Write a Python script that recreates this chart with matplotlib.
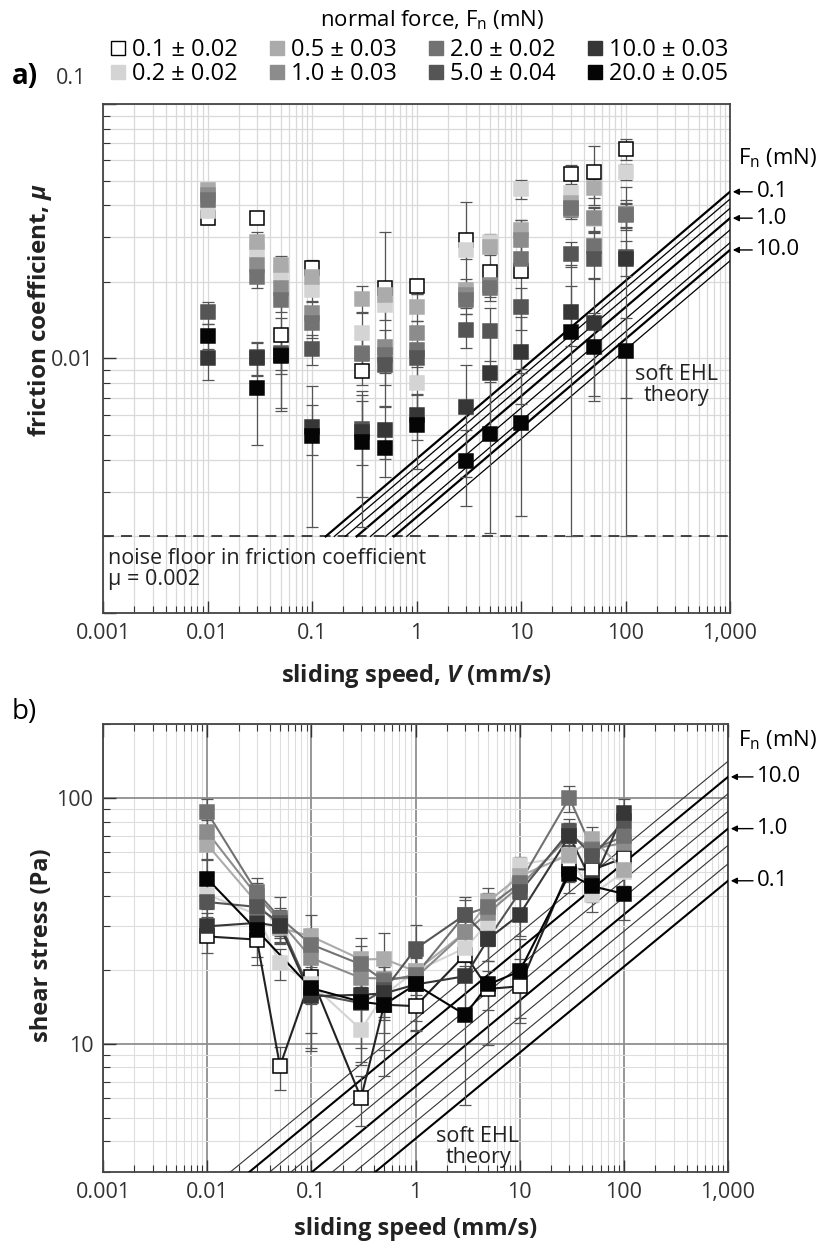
import numpy as np
import matplotlib
matplotlib.use('Agg')
import matplotlib.pyplot as plt
from matplotlib.lines import Line2D
from matplotlib.ticker import LogLocator, NullFormatter, FixedLocator

plt.rcParams['font.family'] = ['Open Sans', 'DejaVu Sans']
plt.rcParams['mathtext.fontset'] = 'custom'
plt.rcParams['mathtext.rm'] = 'Open Sans'
plt.rcParams['mathtext.it'] = 'Open Sans:italic'
plt.rcParams['mathtext.bf'] = 'Open Sans:bold'
plt.rcParams['mathtext.bfit'] = 'Open Sans:bold:italic'

# ---- data ----
speeds = [0.01, 0.03, 0.05, 0.1, 0.3, 0.5, 1, 3, 5, 10, 30, 50, 100]
forces = [0.1, 0.2, 0.5, 1.0, 2.0, 5.0, 10.0, 20.0]
force_labels = ['0.1 ± 0.02', '0.2 ± 0.02', '0.5 ± 0.03', '1.0 ± 0.03',
                '2.0 ± 0.02', '5.0 ± 0.04', '10.0 ± 0.03', '20.0 ± 0.05']
face_colors = ['white', '#d4d4d4', '#ababab', '#8c8c8c', '#727272', '#555555', '#363636', '#050505']

# a) friction coefficient
mu_01 = [0.0357, 0.0357, 0.0124, 0.0226, 0.0089, 0.0190, 0.0193, 0.0292, 0.0219, 0.0221, 0.0530, 0.0542, 0.0665]
mu_02 = [0.0380, 0.0267, 0.0216, 0.0186, 0.0126, 0.0162, 0.0080, 0.0267, 0.0288, 0.0462, 0.0446, 0.0352, 0.0542]
mu_05 = [0.0459, 0.0288, 0.0233, 0.0209, 0.0172, 0.0178, 0.0160, 0.0186, 0.0275, 0.0320, 0.0407, 0.0466, 0.0369]
mu_1 = [0.0440, 0.0233, 0.0189, 0.0151, 0.0105, 0.0111, 0.0126, 0.0178, 0.0195, 0.0292, 0.0383, 0.0355, 0.0370]
mu_2 = [0.0420, 0.0209, 0.0170, 0.0138, 0.0104, 0.0103, 0.0108, 0.0170, 0.0189, 0.0246, 0.0390, 0.0277, 0.0365]
mu_5 = [0.0152, 0.0101, 0.0105, 0.0109, 0.0053, 0.0094, 0.0100, 0.0130, 0.0128, 0.0160, 0.0258, 0.0246, 0.0250]
mu_10 = [0.0100, 0.0100, 0.0103, 0.00536, 0.00516, 0.00524, 0.0060, 0.00643, 0.0088, 0.0106, 0.0152, 0.0138, 0.0246]
mu_20 = [0.01225, 0.00767, 0.0102, 0.00497, 0.00468, 0.00443, 0.00548, 0.00394, 0.00506, 0.0056, 0.0127, 0.0111, 0.0107]

mu_err_01 = [0.0018, 0.0010, 0.0060, 0.0018, 0.0010, 0.0125, 0.0013, 0.0120, 0.0040, 0.0130, 0.0045, 0.0140, 0.0065]
mu_err_02 = [0.0030, 0.0025, 0.0020, 0.0020, 0.0025, 0.0020, 0.0020, 0.0020, 0.0020, 0.0040, 0.0030, 0.0040, 0.0040]
mu_err_05 = [0.0030, 0.0025, 0.0020, 0.0020, 0.0020, 0.0020, 0.0020, 0.0020, 0.0020, 0.0030, 0.0030, 0.0040, 0.0050]
mu_err_1 = [0.0025, 0.0020, 0.0018, 0.0018, 0.0018, 0.0018, 0.0015, 0.0020, 0.0020, 0.0030, 0.0030, 0.0040, 0.0040]
mu_err_2 = [0.0025, 0.0020, 0.0018, 0.0018, 0.0015, 0.0015, 0.0015, 0.0020, 0.0020, 0.0030, 0.0030, 0.0040, 0.0040]
mu_err_5 = [0.0015, 0.0015, 0.0015, 0.0015, 0.0015, 0.0015, 0.0015, 0.0020, 0.0030, 0.0030, 0.0030, 0.0040, 0.0040]
mu_err_10 = [0.0018, 0.0015, 0.0041, 0.0012, 0.0023, 0.0012, 0.0012, 0.0030, 0.0040, 0.0040, 0.0040, 0.0070, 0.0226]
mu_err_20 = [0.0014, 0.0031, 0.0015, 0.0028, 0.0025, 0.0010, 0.0018, 0.0013, 0.0030, 0.0032, 0.0107, 0.0040, 0.0037]

# b) shear stress (Pa)
tau_01 = [27.3, 26.5, 8.1, 18.7, 6.0, 14.4, 14.2, 23.0, 16.7, 17.1, 51.4, 51.0, 57.0]
tau_02 = [40.4, 33.5, 21.2, 17.5, 11.4, 15.8, 19.7, 24.5, 31.0, 53.5, 58.0, 40.4, 50.0]
tau_05 = [64.6, 37.4, 29.6, 27.3, 22.0, 22.1, 19.7, 28.4, 37.9, 48.0, 58.8, 68.1, 51.0]
tau_1 = [72.7, 40.0, 31.5, 22.3, 18.5, 18.4, 18.5, 28.4, 34.1, 43.7, 69.8, 62.0, 65.6]
tau_2 = [87.4, 41.3, 32.5, 25.3, 21.0, 18.0, 19.0, 33.5, 36.0, 45.0, 100.0, 61.6, 69.8]
tau_5 = [37.7, 36.0, 31.0, 16.0, 14.6, 16.5, 24.3, 33.5, 26.7, 41.3, 73.1, 57.9, 80.3]
tau_10 = [30.0, 31.0, 30.0, 15.6, 15.8, 16.0, 17.4, 18.8, 26.7, 33.5, 70.0, 45.0, 86.9]
tau_20 = [46.9, 28.9, np.nan, 16.8, 14.8, 14.4, 17.4, 13.1, 17.4, 19.7, 49.0, 43.7, 40.7]

tau_err_01 = [4.0, 4.0, 1.6, 4.0, 1.4, 7.0, 3.0, 4.0, 3.0, 5.0, 6.0, 6.0, 7.0]
tau_err_02 = [5.0, 4.0, 3.0, 3.0, 3.0, 3.0, 3.0, 3.0, 4.0, 4.0, 6.0, 6.0, 6.0]
tau_err_05 = [8.0, 5.0, 4.0, 6.0, 5.0, 6.0, 4.0, 4.0, 5.0, 6.0, 7.0, 8.0, 7.0]
tau_err_1 = [9.0, 5.0, 4.0, 4.0, 4.0, 4.0, 4.0, 4.0, 5.0, 5.0, 8.0, 7.0, 8.0]
tau_err_2 = [12.0, 6.0, 7.0, 4.0, 4.0, 4.0, 4.0, 5.0, 5.0, 6.0, 12.0, 7.0, 9.0]
tau_err_5 = [5.0, 5.0, 4.0, 5.0, 5.0, 4.0, 6.0, 6.0, 5.0, 6.0, 9.0, 7.0, 10.0]
tau_err_10 = [4.0, 4.0, 4.0, 6.0, 5.0, 5.0, 5.0, 5.0, 5.0, 6.0, 9.0, 6.0, 12.0]
tau_err_20 = [9.0, 8.0, 5.0, 7.5, 6.6, 5.0, 6.0, 7.5, 7.5, 7.0, 8.0, 6.0, 9.0]

mu_series = [mu_01, mu_02, mu_05, mu_1, mu_2, mu_5, mu_10, mu_20]
mu_errs = [mu_err_01, mu_err_02, mu_err_05, mu_err_1, mu_err_2, mu_err_5, mu_err_10, mu_err_20]
tau_series = [tau_01, tau_02, tau_05, tau_1, tau_2, tau_5, tau_10, tau_20]
tau_errs = [tau_err_01, tau_err_02, tau_err_05, tau_err_1, tau_err_2, tau_err_5, tau_err_10, tau_err_20]

# soft EHL theory lines: value at V = 1000 mm/s, log-log slope
ehl_mu_end = [0.0452, 0.0423, 0.0389, 0.0356, 0.0320, 0.0285, 0.0267, 0.0242]
ehl_tau_end = [46.0, 53.9, 64.1, 75.0, 88.2, 104.0, 121.8, 141.0]
ehl_slope = 0.35
ehl_bold = [True, False, False, True, False, False, True, False]
noise_floor = 0.002

x_ticks = [0.001, 0.01, 0.1, 1, 10, 100, 1000]
x_ticklabels = ['0.001', '0.01', '0.1', '1', '10', '100', '1,000']

# ---- figure ----
W, H = 823, 1245
fig = plt.figure(figsize=(W / 100, H / 100), dpi=100)


def px_axes(l, t, r, b):
    return fig.add_axes([l / W, 1 - b / H, (r - l) / W, (b - t) / H])


ax_a = px_axes(103, 104, 730, 613)
ax_b = px_axes(103, 724, 728, 1172)

for ax in (ax_a, ax_b):
    ax.set_xscale('log')
    ax.set_yscale('log')
    ax.set_xlim(0.001, 1000)
    ax.xaxis.set_major_locator(FixedLocator(x_ticks))
    ax.set_xticklabels(x_ticklabels)
    ax.xaxis.set_minor_locator(LogLocator(base=10, subs=np.arange(2, 10)))
    ax.xaxis.set_minor_formatter(NullFormatter())
    ax.yaxis.set_minor_locator(LogLocator(base=10, subs=np.arange(2, 10)))
    ax.yaxis.set_minor_formatter(NullFormatter())
    ax.tick_params(which='both', direction='in', labelsize=15.5, colors='#333333', pad=7)
    ax.tick_params(which='major', length=9, width=1)
    ax.tick_params(which='minor', length=5, width=0.8)
    for s in ax.spines.values():
        s.set_color('#444444')
        s.set_linewidth(1.3)
    ax.set_axisbelow(True)

# ---- panel a ----
ax_a.set_ylim(0.001, 0.1)
ax_a.set_yticks([0.001, 0.01, 0.1])
ax_a.set_yticklabels(['', '0.01', ''])
ax_a.grid(True, which='both', color='#d9d9d9', lw=0.9)

ax_a.axhline(noise_floor, color='#333333', lw=1.3, ls=(0, (6, 4)), zorder=2)
for end, bold in zip(ehl_mu_end, ehl_bold):
    v0 = 1000 * (noise_floor / end) ** (1 / ehl_slope)
    vv = np.array([v0, 1000])
    ax_a.plot(vv, end * (vv / 1000) ** ehl_slope, color='black',
              lw=1.6 if bold else 0.9, zorder=3)

for mu, err, fc in zip(mu_series, mu_errs, face_colors):
    mu = np.array(mu)
    err = np.array(err)
    lower = np.minimum(err, mu - noise_floor)
    ax_a.errorbar(speeds, mu, yerr=[lower, err], fmt='none', ecolor='#555555',
                  elinewidth=0.9, capsize=4, capthick=0.9, zorder=4)
for mu, fc in zip(mu_series, face_colors):
    ec = 'black' if fc == 'white' else fc
    ax_a.plot(speeds, mu, 's', ms=10, mfc=fc, mec=ec, mew=1.1, ls='none', zorder=5)

ax_a.set_xlabel(r'sliding speed, $\mathbfit{V}$ (mm/s)', fontsize=17, fontweight='bold',
                labelpad=13, color='#222222')
fig.text(40 / W, 1 - 310 / H, r'friction coefficient, $\mathbfit{\mu}$', rotation=90,
         fontsize=17.5, fontweight='bold', ha='center', va='center', color='#222222')
fig.text(71 / W, 1 - 79 / H, '0.1', fontsize=15.5, ha='center', va='center', color='#333333')
fig.text(12 / W, 1 - 76 / H, 'a)', fontsize=20, fontweight='bold', ha='left', va='center')

ax_a.text(0.008, 0.128, 'noise floor in friction coefficient\nμ = 0.002', transform=ax_a.transAxes,
          fontsize=15.5, ha='left', va='top', linespacing=1.0, color='#222222')
ax_a.text(0.915, 0.448, 'soft EHL\ntheory', transform=ax_a.transAxes, fontsize=15.5,
          ha='center', va='center', linespacing=1.0, color='#222222')

fig.text(778 / W, 1 - 158 / H, r'F$_\mathrm{n}$ (mN)', fontsize=16, ha='center', va='center')
for idx in (0, 3, 6):
    ax_a.annotate(('%.1f' % forces[idx]), xy=(1.0, ehl_mu_end[idx]), xycoords=('axes fraction', 'data'),
                  xytext=(19, 0), textcoords='offset points', fontsize=16, va='center', ha='left',
                  arrowprops=dict(arrowstyle='-|>', color='black', lw=1.0, shrinkA=1, shrinkB=2,
                                  mutation_scale=9),
                  annotation_clip=False)

# legend
handles = []
for fc in face_colors:
    ec = 'black' if fc == 'white' else fc
    handles.append(Line2D([], [], marker='s', ls='none', ms=10.5, mfc=fc, mec=ec, mew=1.0))
fig.text(432 / W, 1 - 20 / H, r'normal force, F$_\mathrm{n}$ (mN)', fontsize=16,
         ha='center', va='center')
leg = fig.legend(handles, force_labels, loc='upper center', bbox_to_anchor=(0.51, 1 - 26 / H),
                 ncol=4, frameon=False, fontsize=17, handlelength=0.6, handletextpad=0.3,
                 columnspacing=1.35, labelspacing=0.0, borderpad=0)

# ---- panel b ----
ax_b.set_ylim(3, 200)
ax_b.set_yticks([10, 100])
ax_b.set_yticklabels(['10', '100'])
ax_b.tick_params(which='both', top=True)
ax_b.grid(True, which='minor', color='#dedede', lw=0.8)
ax_b.grid(True, which='major', color='#8f8f8f', lw=1.3)

for end, bold in zip(ehl_tau_end, ehl_bold):
    vv = np.array([0.001, 1000])
    ax_b.plot(vv, end * (vv / 1000) ** ehl_slope, color='black' if bold else '#333333',
              lw=1.5 if bold else 0.8, zorder=3)

for tau, err, fc in zip(tau_series, tau_errs, face_colors):
    ax_b.errorbar(speeds, tau, yerr=err, fmt='none', ecolor='#555555',
                  elinewidth=0.9, capsize=4, capthick=0.9, zorder=4)
for tau, fc in zip(tau_series, face_colors):
    tau = np.array(tau, dtype=float)
    ok = np.isfinite(tau)
    lc = '#222222' if fc == 'white' else fc
    ec = 'black' if fc == 'white' else fc
    ax_b.plot(np.array(speeds)[ok], tau[ok], '-', color=lc, lw=1.5, zorder=5)
    ax_b.plot(np.array(speeds)[ok], tau[ok], 's', ms=10, mfc=fc, mec=ec, mew=1.1, zorder=6)

ax_b.set_xlabel('sliding speed (mm/s)', fontsize=17, fontweight='bold', labelpad=10, color='#222222')
fig.text(42 / W, 1 - 945 / H, 'shear stress (Pa)', rotation=90, fontsize=17, fontweight='bold',
         ha='center', va='center', color='#222222')
fig.text(12 / W, 1 - 712 / H, 'b)', fontsize=20, ha='left', va='center')
ax_b.text(0.60, 0.056, 'soft EHL\ntheory', transform=ax_b.transAxes, fontsize=15.5,
          ha='center', va='center', linespacing=1.0, color='#222222')

fig.text(778 / W, 1 - 740 / H, r'F$_\mathrm{n}$ (mN)', fontsize=16, ha='center', va='center')
for idx in (6, 3, 0):
    ax_b.annotate(('%.1f' % forces[idx]), xy=(1.0, ehl_tau_end[idx]), xycoords=('axes fraction', 'data'),
                  xytext=(21, 0), textcoords='offset points', fontsize=16, va='center', ha='left',
                  arrowprops=dict(arrowstyle='-|>', color='black', lw=1.0, shrinkA=1, shrinkB=2,
                                  mutation_scale=9),
                  annotation_clip=False)

fig.savefig('out.png', dpi=100)
